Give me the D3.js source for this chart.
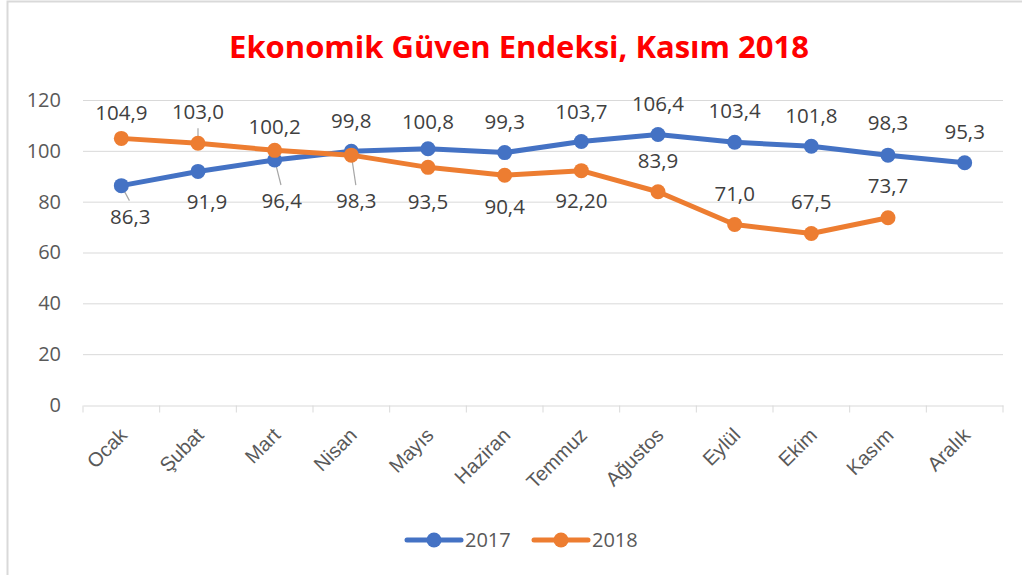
<!DOCTYPE html>
<html lang="tr">
<head>
  <meta charset="UTF-8">
  <title>Ekonomik Güven Endeksi, Kasım 2018</title>
  <script src="https://d3js.org/d3.v7.min.js"></script>
  <style>
    body {
      margin: 0;
      padding: 0;
      background: #fff;
      font-family: "Open Sans", "Liberation Sans", sans-serif;
    }
  </style>
</head>
<body>
  <div id="chart"></div>

  <script>
    const months = ["Ocak", "Şubat", "Mart", "Nisan", "Mayıs", "Haziran",
      "Temmuz", "Ağustos", "Eylül", "Ekim", "Kasım", "Aralık"];
    const values2017 = [86.3, 91.9, 96.4, 99.8, 100.8, 99.3, 103.7, 106.4, 103.4, 101.8, 98.3, 95.3];
    const values2018 = [104.9, 103.0, 100.2, 98.3, 93.5, 90.4, 92.2, 83.9, 71.0, 67.5, 73.7];
    const labels2017 = ["86,3", "91,9", "96,4", "99,8", "100,8", "99,3", "103,7", "106,4", "103,4", "101,8", "98,3", "95,3"];
    const labels2018 = ["104,9", "103,0", "100,2", "98,3", "93,5", "90,4", "92,20", "83,9", "71,0", "67,5", "73,7"];
    const yTicks = [0, 20, 40, 60, 80, 100, 120];

    // label placement relative to the point (pixels), like Excel's manual moves
    const offsets2017 = [[9, 31], [9, 30], [7, 41], [0, -31], [0, -27], [0, -31],
      [0, -30], [0, -31], [0, -31], [0, -30], [0, -32], [0, -31]];
    const offsets2018 = [[0, -26], [0, -31], [0, -24], [5, 46], [0, 34], [0, 32],
      [0, 30], [0, -31], [0, -31], [0, -32], [0, -32]];
    const leaders2017 = [0, 2];
    const leaders2018 = [1, 3];

    const W = 1022, H = 575;
    const margin = { top: 100, right: 19, bottom: 170, left: 83 };
    const width = W - margin.left - margin.right;
    const height = H - margin.top - margin.bottom;

    const svg = d3.select("#chart")
      .append("svg")
      .attr("width", W)
      .attr("height", H);

    // chart frame (only top and left edges are visible)
    svg.append("path")
      .attr("d", "M7.5,575 V1.5 H1022")
      .attr("fill", "none")
      .attr("stroke", "#d9d9d9")
      .attr("stroke-width", 2);

    svg.append("text")
      .attr("x", 519).attr("y", 58)
      .attr("text-anchor", "middle")
      .attr("fill", "#ff0000")
      .attr("font-size", 31)
      .attr("font-weight", "bold")
      .text("Ekonomik Güven Endeksi, Kasım 2018");

    const g = svg.append("g")
      .attr("transform", `translate(${margin.left},${margin.top})`);

    const x = d3.scaleBand().domain(months).range([0, width]);
    const y = d3.scaleLinear().domain([0, 120]).range([height, 0]);

    g.append("g")
      .selectAll("line")
      .data(yTicks.slice(1))
      .join("line")
      .attr("x1", 0).attr("x2", width)
      .attr("y1", d => y(d) + 0.5).attr("y2", d => y(d) + 0.5)
      .attr("stroke", "#d9d9d9");

    const yAxis = g.append("g")
      .call(d3.axisLeft(y).tickValues(yTicks).tickSize(0).tickPadding(22));
    yAxis.select(".domain").remove();
    yAxis.selectAll("text")
      .attr("font-family", "Open Sans, sans-serif")
      .attr("font-size", 20)
      .attr("fill", "#595959");

    const xAxis = g.append("g")
      .attr("transform", `translate(0,${height + 0.5})`)
      .call(d3.axisBottom(x).tickSize(0).tickFormat(""));
    xAxis.select(".domain").attr("stroke", "#d9d9d9");
    xAxis.selectAll(".tick").remove();

    const bounds = months.map(m => x(m)).concat([width]);
    xAxis.selectAll("line.sep")
      .data(bounds)
      .join("line")
      .attr("class", "sep")
      .attr("x1", d => d).attr("x2", d => d)
      .attr("y1", 0).attr("y2", 7)
      .attr("stroke", "#d9d9d9");

    xAxis.selectAll("text.lbl")
      .data(months)
      .join("text")
      .attr("class", "lbl")
      .attr("transform", d => `translate(${x(d) + x.bandwidth() / 2 - 3},${21}) rotate(-45)`)
      .attr("text-anchor", "end")
      .attr("dy", "0.7em")
      .attr("font-size", 20)
      .attr("fill", "#595959")
      .text(d => d);

    const cx = i => x(months[i]) + x.bandwidth() / 2;

    const series = [
      { vals: values2017, labels: labels2017, offs: offsets2017, leaders: leaders2017, color: "#4472c4" },
      { vals: values2018, labels: labels2018, offs: offsets2018, leaders: leaders2018, color: "#ed7d31" }
    ];

    const line = d3.line()
      .x((d, i) => cx(i))
      .y(d => y(d));

    // leader lines
    series.forEach(s => {
      g.selectAll(null)
        .data(s.leaders)
        .join("line")
        .attr("x1", i => cx(i))
        .attr("y1", i => y(s.vals[i]))
        .attr("x2", i => cx(i) + s.offs[i][0] * 0.9)
        .attr("y2", i => y(s.vals[i]) + s.offs[i][1] - Math.sign(s.offs[i][1]) * 16)
        .attr("stroke", "#a6a6a6")
        .attr("stroke-width", 1.2);
    });

    series.forEach(s => {
      g.append("path")
        .datum(s.vals)
        .attr("fill", "none")
        .attr("stroke", s.color)
        .attr("stroke-width", 5)
        .attr("stroke-linejoin", "round")
        .attr("d", line);

      g.selectAll(null)
        .data(s.vals)
        .join("circle")
        .attr("cx", (d, i) => cx(i))
        .attr("cy", d => y(d))
        .attr("r", 7.5)
        .attr("fill", s.color);
    });

    series.forEach(s => {
      g.selectAll(null)
        .data(s.vals)
        .join("text")
        .attr("x", (d, i) => cx(i) + s.offs[i][0])
        .attr("y", (d, i) => y(d) + s.offs[i][1])
        .attr("dy", "0.35em")
        .attr("text-anchor", "middle")
        .attr("font-size", 20.5)
        .attr("fill", "#404040")
        .text((d, i) => s.labels[i]);
    });

    // legend
    const legend = svg.append("g").attr("transform", "translate(407,540)");
    const legendItems = [
      { name: "2017", color: "#4472c4", x: 0 },
      { name: "2018", color: "#ed7d31", x: 127 }
    ];
    const li = legend.selectAll("g")
      .data(legendItems)
      .join("g")
      .attr("transform", d => `translate(${d.x},0)`);
    li.append("line")
      .attr("x1", 0).attr("x2", 54)
      .attr("stroke", d => d.color)
      .attr("stroke-width", 5)
      .attr("stroke-linecap", "round");
    li.append("circle")
      .attr("cx", 27).attr("r", 7.5)
      .attr("fill", d => d.color);
    li.append("text")
      .attr("x", 58)
      .attr("dy", "0.35em")
      .attr("font-size", 20)
      .attr("fill", "#595959")
      .text(d => d.name);
  </script>
</body>
</html>
